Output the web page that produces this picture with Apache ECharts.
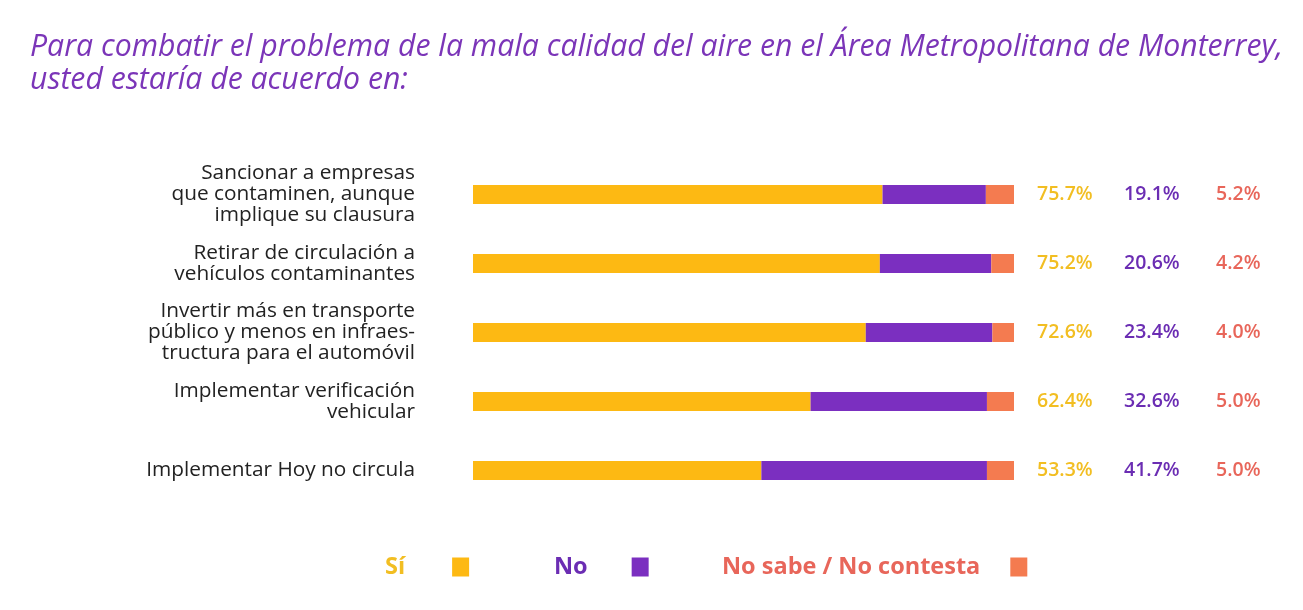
<!DOCTYPE html>
<html>
<head>
<meta charset="utf-8">
<script src="https://cdn.jsdelivr.net/npm/echarts@6/dist/echarts.min.js"></script>
<style>
  html, body { margin: 0; padding: 0; background: #fff; }
  #chart { width: 1303px; height: 610px; }
</style>
</head>
<body>
<div id="chart"></div>
<script>
  // datos de la encuesta
  var categorias = [
    'Sancionar a empresas\nque contaminen, aunque\nimplique su clausura',
    'Retirar de circulación a\nvehículos contaminantes',
    'Invertir más en transporte\npúblico y menos en infraes-\ntructura para el automóvil',
    'Implementar verificación\nvehicular',
    'Implementar Hoy no circula'
  ];
  var si = [75.7, 75.2, 72.6, 62.4, 53.3];
  var no = [19.1, 20.6, 23.4, 32.6, 41.7];
  var noSabe = [5.2, 4.2, 4.0, 5.0, 5.0];
  var nombres = ['Sí', 'No', 'No sabe / No contesta'];

  var fuente = 'Open Sans';
  var colores = ['#FDB913', '#7B2FC0', '#F47B50'];
  var coloresTexto = ['#F2BE22', '#6B2DB3', '#E8665A'];

  function pct(arr) {
    return arr.map(function (v) { return v.toFixed(1) + '%'; });
  }

  function ejeDerecho(arr, offset, color) {
    return {
      type: 'category',
      position: 'right',
      inverse: true,
      offset: offset,
      data: pct(arr),
      axisLine: { show: false },
      axisTick: { show: false },
      splitLine: { show: false },
      axisLabel: {
        color: color,
        fontFamily: fuente,
        fontSize: 19.5,
        fontWeight: 600,
        margin: 8
      }
    };
  }

  function leyenda(i, left, gap) {
    return {
      left: left,
      top: 550,
      align: 'right',
      itemWidth: 17,
      itemHeight: 19,
      icon: 'rect',
      data: [{ name: nombres[i], textStyle: { color: coloresTexto[i] } }],
      textStyle: {
        fontFamily: fuente,
        fontSize: 23.5,
        fontWeight: 'bold',
        padding: [0, gap, 0, 0]
      }
    };
  }

  var myChart = echarts.init(document.getElementById('chart'));
  var option = {
    color: colores,
    animation: false,
    title: {
      text: 'Para combatir el problema de la mala calidad del aire en el Área Metropolitana de Monterrey,\nusted estaría de acuerdo en:',
      left: 25,
      top: 26,
      textStyle: {
        color: '#7B35B8',
        fontFamily: fuente,
        fontSize: 30.2,
        fontStyle: 'italic',
        fontWeight: 'normal',
        lineHeight: 33
      }
    },
    legend: [
      leyenda(0, 380, 42),
      leyenda(1, 549, 39),
      leyenda(2, 717, 25)
    ],
    grid: { left: 473, right: 289, top: 160, height: 345 },
    xAxis: { type: 'value', min: 0, max: 100, show: false },
    yAxis: [
      {
        type: 'category',
        inverse: true,
        data: categorias,
        axisLine: { show: false },
        axisTick: { show: false },
        splitLine: { show: false },
        axisLabel: {
          color: '#222',
          fontFamily: fuente,
          fontSize: 20.8,
          lineHeight: 21,
          margin: 58,
          align: 'right'
        }
      },
      ejeDerecho(si, 15, coloresTexto[0]),
      ejeDerecho(no, 102, coloresTexto[1]),
      ejeDerecho(noSabe, 194, coloresTexto[2])
    ],
    series: [
      { name: nombres[0], type: 'bar', stack: 'total', barWidth: 19, data: si },
      { name: nombres[1], type: 'bar', stack: 'total', barWidth: 19, data: no },
      { name: nombres[2], type: 'bar', stack: 'total', barWidth: 19, data: noSabe }
    ]
  };
  myChart.setOption(option);
</script>
</body>
</html>
